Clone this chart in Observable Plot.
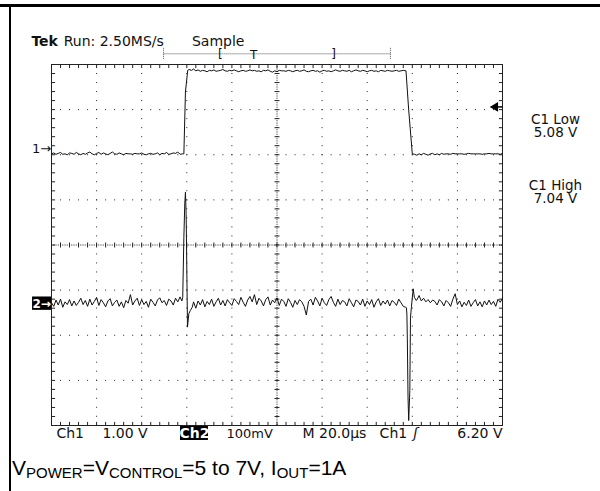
<!DOCTYPE html>
<html>
<head>
<meta charset="utf-8">
<script src="https://cdn.jsdelivr.net/npm/d3@7"></script>
<script src="https://cdn.jsdelivr.net/npm/@observablehq/plot@0.6"></script>
<style>
  html, body { margin: 0; padding: 0; background: #fff; }
  #wrap { position: relative; width: 600px; height: 491px; overflow: hidden; background: #fff; }
  #chart { position: absolute; left: 0; top: 0; }
  #topline { position: absolute; left: 0; top: 4px; width: 600px; height: 3px; background: #000; }
  #leftline { position: absolute; left: 9px; top: 4px; width: 2px; height: 487px; background: #000; }
  #caption { position: absolute; left: 12px; top: 457px; font-family: "Liberation Sans", Arial, sans-serif;
             font-size: 21px; line-height: 21px; color: #000; white-space: nowrap; }
  #caption span { font-size: 15px; vertical-align: -3px; }
</style>
</head>
<body>
<div id="wrap">
  <div id="chart"></div>
  <div id="topline"></div>
  <div id="leftline"></div>
  <div id="caption">V<span>POWER</span>=V<span>CONTROL</span>=5 to 7V, I<span>OUT</span>=1A</div>
</div>
<script>
// ---------------- data ----------------
// Time axis: 20.0 µs/div, 10 divisions -> 0..200 µs. Vertical: 8 divisions.
// Ch1: 1.00 V/div, volts; Ch2: 100 mV/div, millivolts.
const ch1Offset = 3.06;   // volts at screen centre for Ch1
const ch2Pos = -1.30;     // Ch2 ground position, divisions

// Ch1 low level, t = 0..58 µs (1 µs steps)
const ch1Low1 = [5.08,5.10,5.07,5.09,5.11,5.07,5.08,5.06,5.10,5.09,
  5.07,5.11,5.08,5.06,5.09,5.07,5.10,5.12,5.08,5.06,
  5.09,5.11,5.07,5.10,5.08,5.06,5.09,5.12,5.08,5.07,
  5.10,5.08,5.06,5.09,5.08,5.08,5.07,5.09,5.08,5.08,
  5.10,5.07,5.06,5.08,5.09,5.07,5.08,5.10,5.06,5.09,
  5.08,5.11,5.07,5.08,5.10,5.09,5.12,5.07,5.08];
// Ch1 rising edge [t µs, V]
const ch1Rise = [[58.7,5.08],[59.4,6.45],[60.4,6.93]];
// Ch1 high level, t = 61..156 µs
const ch1High = [6.95,6.93,6.96,6.92,6.94,6.91,6.93,6.92,6.90,6.93,
  6.92,6.94,6.91,6.92,6.93,6.95,6.92,6.91,6.93,6.92,
  6.94,6.92,6.90,6.92,6.93,6.91,6.92,6.94,6.92,6.93,
  6.91,6.92,6.90,6.93,6.92,6.94,6.91,6.89,6.92,6.90,
  6.93,6.92,6.92,6.91,6.93,6.92,6.90,6.92,6.93,6.91,
  6.92,6.94,6.91,6.90,6.92,6.93,6.91,6.92,6.89,6.92,
  6.93,6.91,6.92,6.90,6.92,6.94,6.92,6.91,6.93,6.92,
  6.91,6.93,6.90,6.92,6.94,6.92,6.91,6.93,6.92,6.90,
  6.92,6.93,6.91,6.92,6.90,6.93,6.92,6.91,6.93,6.92,
  6.91,6.92,6.93,6.91,6.92,6.93];
// Ch1 falling edge [t µs, V]
const ch1Fall = [[157.2,6.92],[158.4,6.05],[160.0,5.08]];
// Ch1 low level, t = 161..200 µs
const ch1Low2 = [5.07,5.05,5.08,5.06,5.09,5.07,5.05,5.08,5.09,5.06,
  5.08,5.06,5.09,5.07,5.08,5.08,5.07,5.09,5.08,5.08,
  5.08,5.08,5.07,5.08,5.09,5.08,5.08,5.08,5.08,5.08,
  5.07,5.08,5.08,5.09,5.08,5.08,5.08,5.08,5.07,5.09];

// Ch2 baseline noise, mV, t = 0..200 µs (1 µs steps)
const ch2Base = [2,-6,8,-3,10,-8,4,-2,9,-5,
  6,-4,3,12,-2,7,-6,10,-3,5,
  14,-4,9,2,-7,6,11,-5,3,8,
  -6,4,-9,7,1,20,-3,6,12,-4,
  9,-2,5,-8,10,3,-5,8,13,2,
  7,-4,10,6,-3,12,4,15,9,5,
  -30,-20,-8,4,-10,6,-3,9,-7,5,
  -2,10,-6,4,12,-3,7,-5,9,2,
  -4,11,5,-2,14,3,-6,8,16,4,
  20,-2,12,6,-5,9,15,-3,8,2,
  13,-4,10,5,-6,11,3,-8,7,-2,
  9,4,-6,-25,5,10,-3,14,6,-5,
  12,2,-4,9,16,3,-6,10,-2,7,
  4,-5,11,2,-7,8,5,-3,10,-6,
  6,-2,9,-8,4,11,-4,6,-1,8,
  -5,7,3,-4,10,2,-6,-8,-20,-40,
  30,14,8,18,6,12,4,9,2,8,
  5,-3,9,4,-5,7,2,-6,10,22,
  -2,6,-7,3,-4,8,-6,2,9,-5,
  4,-7,6,-3,8,-2,5,-6,10,3,
  12];
// Ch2 transient at the rising edge [t µs, mV]
const ch2RiseSpike = [[57.8,6],[58.2,14],[58.7,147],[59.1,221],[59.4,247],[59.7,200],
  [60.0,81],[60.3,-52],[60.9,-22],[61.6,-15],[62.4,-8]];
// Ch2 transient at the falling edge [t µs, mV]
const ch2FallSpike = [[157.4,-9],[157.6,-23],[157.8,-78],[158.1,-207],[158.4,-259],
  [158.9,-193],[159.2,-30],[159.6,-8],[160.4,33],[160.9,14],[161.8,7]];

// text
const headerBold = "Tek";
const headerRun = "Run: 2.50MS/s";
const headerMode = "Sample";
const measLabels = ["C1 Low\n5.08 V", "C1 High\n7.04 V"];
const bottomLabels = ["Ch1", "1.00 V", "Ch2", "100mV", "M 20.0µs", "Ch1", "ʃ", "6.20 V"];
const trigLevelV = 6.12;  // trigger arrow level as drawn (V)

// ---------------- build series ----------------
const ch1 = [];
ch1Low1.forEach((v, i) => ch1.push({t: i, v}));
ch1Rise.forEach(([t, v]) => ch1.push({t, v}));
ch1High.forEach((v, i) => ch1.push({t: 61 + i, v}));
ch1Fall.forEach(([t, v]) => ch1.push({t, v}));
ch1Low2.forEach((v, i) => ch1.push({t: 161 + i, v}));
ch1.sort((a, b) => a.t - b.t);

const ch2 = ch2Base.map((mv, i) => ({t: i, mv}))
  .filter(d => !(d.t > 57.6 && d.t < 62.5) && !(d.t > 157.2 && d.t < 162))
  .concat(ch2RiseSpike.map(([t, mv]) => ({t, mv})))
  .concat(ch2FallSpike.map(([t, mv]) => ({t, mv})))
  .sort((a, b) => a.t - b.t);

// grid structure
const W = 600, H = 455, mL = 51, mR = 98, mT = 64, mB = 30;
const divPx = (W - mL - mR) / 10;
const minorPx = divPx / 5;
const gridT = [20, 40, 60, 80, 120, 140, 160, 180];
const gridD = [-3, -2, -1, 1, 2, 3];
const minorT = d3.range(0, 200.001, 4);
const minorD = d3.range(-4, 4.001, 0.2);
const gridColor = "#222";

const txt = (s, o) => Plot.text([s], {text: d => d, lineAnchor: "bottom", fontSize: 14, fill: "#111", ...o});

const plot = Plot.plot({
  width: W, height: H,
  marginLeft: mL, marginRight: mR, marginTop: mT, marginBottom: mB,
  x: {domain: [0, 200], axis: null},
  y: {domain: [-4, 4], axis: null},
  style: {fontFamily: "'DejaVu Sans', sans-serif", fontSize: "14px", background: "transparent", overflow: "visible"},
  marks: [
    // dotted graticule
    Plot.ruleX(gridT, {stroke: gridColor, strokeDasharray: `1 ${minorPx - 1}`}),
    Plot.ruleY(gridD, {stroke: gridColor, strokeDasharray: `1 ${minorPx - 1}`}),
    // centre lines with minor ticks
    Plot.ruleX([100], {stroke: gridColor, strokeDasharray: "1 1.25"}),
    Plot.ruleY([0], {stroke: gridColor, strokeDasharray: "1 1.25"}),
    Plot.link(minorD, {x1: 98.9, x2: 101.1, y1: d => d, y2: d => d, stroke: gridColor}),
    Plot.link(minorT, {x1: t => t, x2: t => t, y1: -0.055, y2: 0.055, stroke: gridColor}),
    // border minor ticks (inward)
    Plot.link(minorD, {x1: 0, x2: 1.6, y1: d => d, y2: d => d, stroke: gridColor}),
    Plot.link(minorD, {x1: 198.4, x2: 200, y1: d => d, y2: d => d, stroke: gridColor}),
    Plot.link(minorT, {x1: t => t, x2: t => t, y1: 4, y2: 3.92, stroke: gridColor}),
    Plot.link(minorT, {x1: t => t, x2: t => t, y1: -4, y2: -3.92, stroke: gridColor}),
    Plot.frame({stroke: "#222"}),

    // traces
    Plot.line(ch1, {x: "t", y: d => d.v - ch1Offset, stroke: "#111", strokeWidth: 1}),
    Plot.line(ch2, {x: "t", y: d => d.mv / 100 + ch2Pos, stroke: "#111", strokeWidth: 1}),

    // header
    txt(headerBold, {x: -8.9, y: 4.421, textAnchor: "start", fontWeight: "bold"}),
    txt(headerRun, {x: 5.4, y: 4.421, textAnchor: "start"}),
    txt(headerMode, {x: 62.3, y: 4.421, textAnchor: "start"}),
    // record position bar
    Plot.link([0], {x1: 49.7, x2: 150.3, y1: 4.237, y2: 4.237, stroke: "#555", strokeDasharray: "1 1"}),
    Plot.link([49.7, 150.3], {x1: t => t, x2: t => t, y1: 4.37, y2: 4.11, stroke: "#555", strokeDasharray: "1 1"}),
    txt("[", {x: 74.9, y: 4.14, textAnchor: "middle", fontSize: 12}),
    txt("T", {x: 89.6, y: 4.13, textAnchor: "middle", fontSize: 12}),
    txt("]", {x: 125.1, y: 4.14, textAnchor: "middle", fontSize: 12}),

    // channel markers
    txt("1→", {x: -0.2, y: 2.132, textAnchor: "end", lineAnchor: "middle", fontSize: 13}),
    Plot.rect([0], {x1: -8.4, x2: 0, y1: ch2Pos + 0.148, y2: ch2Pos - 0.148, fill: "#000"}),
    txt("2→", {x: -0.3, y: ch2Pos, textAnchor: "end", lineAnchor: "middle", fontSize: 12, fontWeight: "bold", fill: "#fff"}),

    // trigger level arrow
    Plot.link([0], {x1: 197.2, x2: 200, y1: trigLevelV - ch1Offset, y2: trigLevelV - ch1Offset, stroke: "#000", strokeWidth: 1.5}),
    Plot.dot([0], {x: 196.8, y: trigLevelV - ch1Offset, symbol: "triangle", rotate: -90, r: 3.6, fill: "#000", stroke: "none"}),

    // measurements (two-line labels)
    txt(measLabels[0], {x: 223.5, y: 2.40, textAnchor: "middle", fontSize: 13.5, lineHeight: 0.97}),
    txt(measLabels[1], {x: 223.5, y: 0.925, textAnchor: "middle", fontSize: 13.5, lineHeight: 0.97}),

    // bottom status line
    Plot.rect([0], {x1: 57.2, x2: 69.6, y1: -4.022, y2: -4.332, fill: "#000"}),
    txt(bottomLabels[0], {x: 2.2, y: -4.273, textAnchor: "start"}),
    txt(bottomLabels[1], {x: 22.6, y: -4.273, textAnchor: "start"}),
    txt(bottomLabels[2], {x: 63.4, y: -4.273, textAnchor: "middle", fill: "#fff", fontWeight: "bold"}),
    txt(bottomLabels[3], {x: 77.6, y: -4.273, textAnchor: "start", fontSize: 13}),
    txt(bottomLabels[4], {x: 111.3, y: -4.273, textAnchor: "start"}),
    txt(bottomLabels[5], {x: 145.5, y: -4.273, textAnchor: "start"}),
    txt(bottomLabels[6], {x: 161.5, y: -4.273, textAnchor: "middle", fontStyle: "italic"}),
    txt(bottomLabels[7], {x: 200, y: -4.273, textAnchor: "end"})
  ]
});
document.getElementById("chart").appendChild(plot);
</script>
</body>
</html>
